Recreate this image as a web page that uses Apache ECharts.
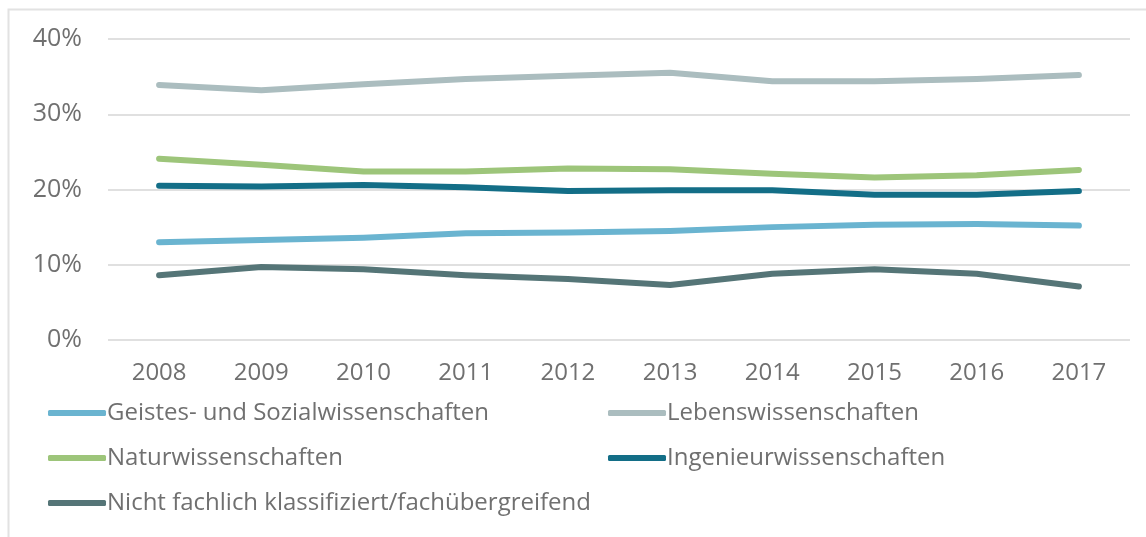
<!DOCTYPE html>
<html>
<head>
<meta charset="utf-8">
<script src="https://cdn.jsdelivr.net/npm/echarts@6/dist/echarts.min.js"></script>
<style>
  html, body { margin: 0; padding: 0; background: #fff; }
  #chart { width: 1146px; height: 537px; }
</style>
</head>
<body>
<div id="chart"></div>
<script>
const years = ['2008', '2009', '2010', '2011', '2012', '2013', '2014', '2015', '2016', '2017'];

const geistes = [13.0, 13.3, 13.6, 14.2, 14.3, 14.5, 15.0, 15.3, 15.4, 15.2];
const lebens = [33.9, 33.2, 34.0, 34.7, 35.1, 35.5, 34.4, 34.4, 34.7, 35.2];
const natur = [24.1, 23.3, 22.4, 22.4, 22.8, 22.7, 22.1, 21.6, 21.9, 22.6];
const ingenieur = [20.5, 20.4, 20.6, 20.3, 19.8, 19.9, 19.9, 19.3, 19.3, 19.8];
const nicht = [8.6, 9.7, 9.4, 8.6, 8.1, 7.3, 8.8, 9.4, 8.8, 7.1];

const seriesNames = [
  'Geistes- und Sozialwissenschaften',
  'Lebenswissenschaften',
  'Naturwissenschaften',
  'Ingenieurwissenschaften',
  'Nicht fachlich klassifiziert/fachübergreifend'
];
const seriesData = [geistes, lebens, natur, ingenieur, nicht];
const colors = ['#6ab4d0', '#abbdbf', '#9dc57a', '#136e87', '#557577'];

const font = '"Open Sans", "Noto Sans", sans-serif';
const textColor = '#707070';

// legend: two columns, left column gets items 0,2,4 and right column 1,3
function legendColumn(left, idx) {
  return {
    left: left,
    top: 401,
    orient: 'vertical',
    itemWidth: 58,
    itemHeight: 6,
    itemGap: 21,
    icon: 'roundRect',
    padding: 0,
    textStyle: { fontFamily: font, fontSize: 24, color: textColor, padding: [0, 0, 0, -4] },
    data: idx.map(i => ({ name: seriesNames[i], itemStyle: { color: colors[i] } }))
  };
}

const chart = echarts.init(document.getElementById('chart'));

chart.setOption({
  animation: false,
  textStyle: { fontFamily: font },
  graphic: [{
    type: 'rect',
    shape: { x: 8.5, y: 9.5, width: 1400, height: 800 },
    style: { fill: 'none', stroke: '#e2e2e2', lineWidth: 2 },
    silent: true
  }],
  grid: { left: 108, right: 16, top: 39, bottom: 197 },
  legend: [legendColumn(48, [0, 2, 4]), legendColumn(608, [1, 3])],
  xAxis: {
    type: 'category',
    data: years,
    boundaryGap: true,
    axisLine: { show: false },
    axisTick: { show: false },
    axisLabel: { color: textColor, fontSize: 24, margin: 21, fontFamily: font }
  },
  yAxis: {
    type: 'value',
    min: 0,
    max: 40,
    interval: 10,
    axisLine: { show: false },
    axisTick: { show: false },
    axisLabel: {
      color: textColor, fontSize: 25, margin: 26, fontFamily: font,
      formatter: v => v + '%'
    },
    splitLine: { lineStyle: { color: '#e0e0e0', width: 2 } }
  },
  series: seriesData.map((d, i) => ({
    name: seriesNames[i],
    type: 'line',
    data: d,
    symbol: 'none',
    color: colors[i],
    lineStyle: { width: 6, color: colors[i], cap: 'round', join: 'round' }
  }))
});
</script>
</body>
</html>
